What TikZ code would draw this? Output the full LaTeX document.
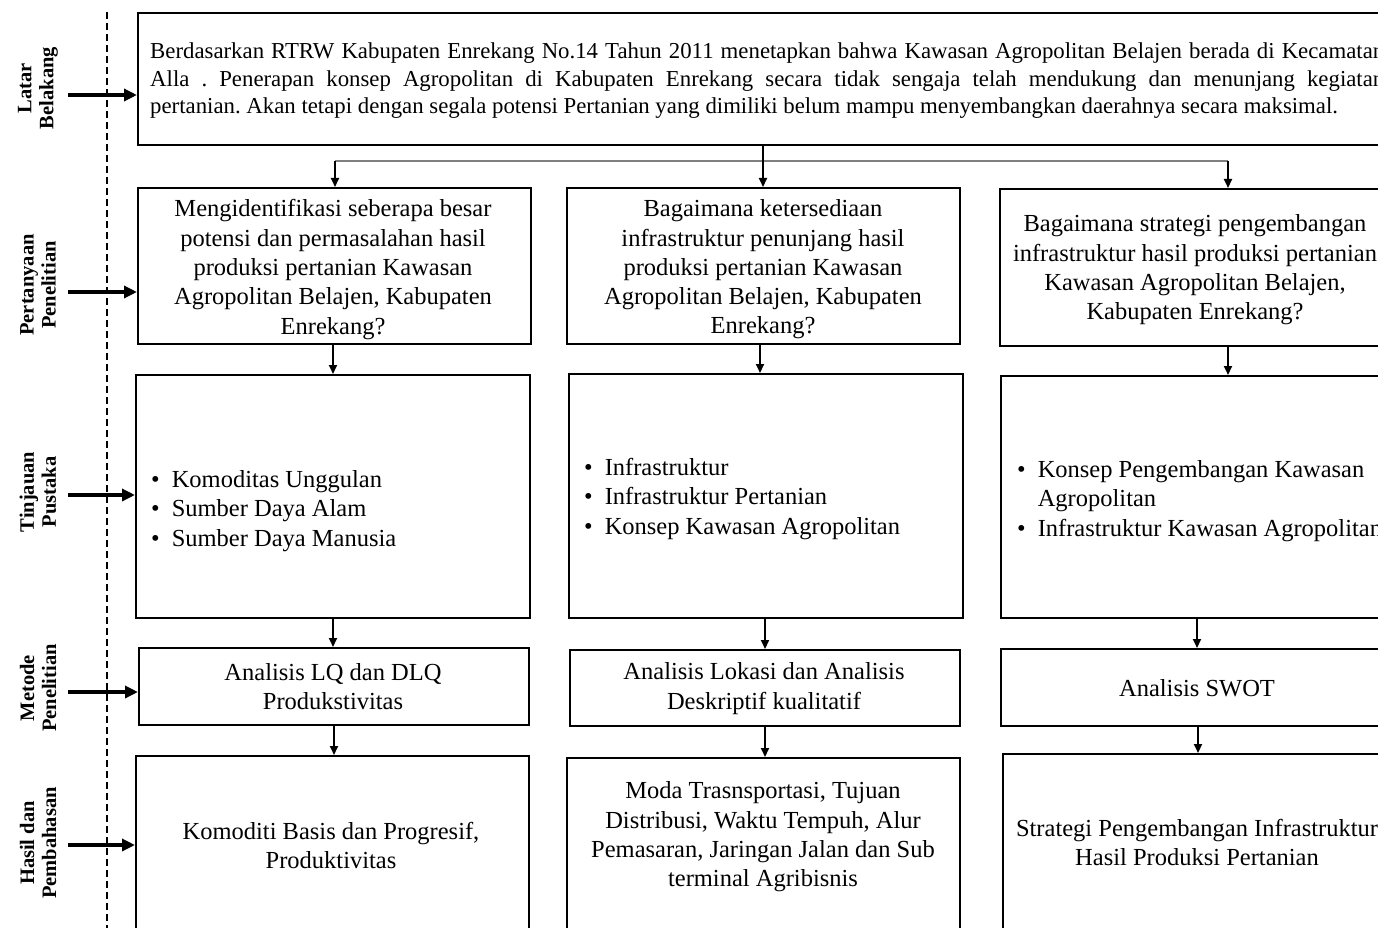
\documentclass[tikz,border=0pt]{standalone}
\usepackage{fontspec}
\setmainfont{Liberation Serif}
\usetikzlibrary{arrows.meta}
\frenchspacing
\begin{document}
\begin{tikzpicture}[x=1pt,y=-1pt,
 box/.style={draw, line width=1.6pt, inner sep=0pt, anchor=north west},
 txt/.style={font=\fontsize{24.5}{29.3}\selectfont\frenchspacing, align=center, inner sep=0pt},
 ltxt/.style={font=\fontsize{24.5}{29.3}\selectfont, anchor=west, inner sep=0pt},
 arr/.style={-{Triangle[length=9pt,width=8pt]}, line width=1.8pt},
 side/.style={-{Triangle[length=13pt,width=12pt]}, line width=4pt},
 grayline/.style={draw=gray, line width=1.2pt},
 lab/.style={rotate=90, font=\fontsize{20.5}{22}\selectfont\bfseries, align=center, inner sep=0pt}]
\useasboundingbox (0,0) rectangle (1378,928);
\clip (0,0) rectangle (1378,928);
% dashed divider
\coordinate (dtop) at (107,12);
\coordinate (dbot) at (107,940);
\draw[line width=1.8pt, dash pattern=on 7pt off 4pt] (dtop) -- (dbot);
% side labels
\node[lab] (l1) at (38,88) {Latar\\Belakang};
\node[lab] (l2) at (38,285) {Pertanyaan\\Penelitian};
\node[lab] (l3) at (38,492) {Tinjauan\\Pustaka};
\node[lab] (l4) at (38,688) {Metode\\Penelitian};
\node[lab] (l5) at (38,843) {Hasil dan\\Pembahasan};
% boxes
\node[box, minimum width=1258pt, minimum height=132pt] (bg) at (137,12) {};
\node[box, minimum width=393pt, minimum height=156pt] (q1) at (137,187) {};
\node[box, minimum width=393pt, minimum height=156pt] (q2) at (566,187) {};
\node[box, minimum width=460pt, minimum height=157pt] (q3) at (999,188) {};
\node[box, minimum width=394pt, minimum height=243pt] (t1) at (135,374) {};
\node[box, minimum width=394pt, minimum height=244pt] (t2) at (568,373) {};
\node[box, minimum width=460pt, minimum height=242pt] (t3) at (1000,375) {};
\node[box, minimum width=390pt, minimum height=77pt] (m1) at (138,647) {};
\node[box, minimum width=390pt, minimum height=76pt] (m2) at (569,649) {};
\node[box, minimum width=395pt, minimum height=77pt] (m3) at (1000,648) {};
\node[box, minimum width=393pt, minimum height=200pt] (h1) at (135,755) {};
\node[box, minimum width=393pt, minimum height=200pt] (h2) at (566,757) {};
\node[box, minimum width=395pt, minimum height=200pt] (h3) at (1002,753) {};
% texts
\node[anchor=west, inner sep=0pt, align=left, font=\fontsize{22.8}{27.5}\selectfont\frenchspacing] (bgt) at (150,81)
 {\makebox[1234pt][s]{Berdasarkan RTRW Kabupaten Enrekang No.14 Tahun 2011 menetapkan bahwa Kawasan Agropolitan Belajen berada di Kecamatan}\\
  \makebox[1234pt][s]{Alla . Penerapan konsep Agropolitan di Kabupaten Enrekang secara tidak sengaja telah mendukung dan menunjang kegiatan}\\
  pertanian. Akan tetapi dengan segala potensi Pertanian yang dimiliki belum mampu menyembangkan daerahnya secara maksimal.};
\node[txt] (q1t) at (333,269.5) {Mengidentifikasi seberapa besar\\potensi dan permasalahan hasil\\produksi pertanian Kawasan\\Agropolitan Belajen, Kabupaten\\Enrekang?};
\node[txt] (q2t) at (763,269.5) {Bagaimana ketersediaan\\infrastruktur penunjang hasil\\produksi pertanian Kawasan\\Agropolitan Belajen, Kabupaten\\Enrekang?};
\node[txt] (q3t) at (1195,270) {Bagaimana strategi pengembangan\\infrastruktur hasil produksi pertanian\\Kawasan Agropolitan Belajen,\\Kabupaten Enrekang?};
\node[ltxt] (t1t) at (151,511) {\begin{tabular}{@{}l@{\hspace{12pt}}l@{}}\textbullet & Komoditas Unggulan\\ \textbullet & Sumber Daya Alam\\ \textbullet & Sumber Daya Manusia\end{tabular}};
\node[ltxt] (t2t) at (584,499) {\begin{tabular}{@{}l@{\hspace{12pt}}l@{}}\textbullet & Infrastruktur\\ \textbullet & Infrastruktur Pertanian\\ \textbullet & Konsep Kawasan Agropolitan\end{tabular}};
\node[ltxt] (t3t) at (1017,501) {\begin{tabular}{@{}l@{\hspace{12pt}}l@{}}\textbullet & Konsep Pengembangan Kawasan\\ & Agropolitan\\ \textbullet & Infrastruktur Kawasan Agropolitan\end{tabular}};
\node[txt] (m1t) at (333,686.5) {Analisis LQ dan DLQ\\Produkstivitas};
\node[txt] (m2t) at (764,688.5) {Analisis Lokasi dan Analisis\\Deskriptif kualitatif};
\node[txt] (m3t) at (1197,688) {Analisis SWOT};
\node[txt] (h1t) at (331,845.5) {Komoditi Basis dan Progresif,\\Produktivitas};
\node[txt] (h2t) at (763,837) {Moda Trasnsportasi, Tujuan\\Distribusi, Waktu Tempuh, Alur\\Pemasaran, Jaringan Jalan dan Sub\\terminal Agribisnis};
\node[txt] (h3t) at (1197,842.5) {Strategi Pengembangan Infrastruktur\\Hasil Produksi Pertanian};
% left arrows
\coordinate (s1) at (68,95);
\coordinate (s2) at (68,292);
\coordinate (s3) at (68,495);
\coordinate (s4) at (68,692);
\coordinate (s5) at (68,845);
\draw[side] (s1) -- (bg.west |- s1);
\draw[side] (s2) -- (q1.west |- s2);
\draw[side] (s3) -- (t1.west |- s3);
\draw[side] (s4) -- (m1.west |- s4);
\draw[side] (s5) -- (h1.west |- s5);
% top distribution
\coordinate (c1) at (335,161);
\coordinate (c2) at (763,161);
\coordinate (c3) at (1228,161);
\draw[grayline] (c1) -- (c3);
\draw[arr] (bg.south -| c2) -- (q2.north -| c2);
\draw[arr] (c1) -- (q1.north -| c1);
\draw[arr] (c3) -- (q3.north -| c3);
% column arrows
\coordinate (a1) at (333,0);
\coordinate (a2) at (760,0);
\coordinate (a3) at (1228,0);
\draw[arr] (q1.south -| a1) -- (t1.north -| a1);
\draw[arr] (q2.south -| a2) -- (t2.north -| a2);
\draw[arr] (q3.south -| a3) -- (t3.north -| a3);
\coordinate (b1) at (333,0);
\coordinate (b2) at (765,0);
\coordinate (b3) at (1197,0);
\draw[arr] (t1.south -| b1) -- (m1.north -| b1);
\draw[arr] (t2.south -| b2) -- (m2.north -| b2);
\draw[arr] (t3.south -| b3) -- (m3.north -| b3);
\coordinate (e1) at (334,0);
\coordinate (e2) at (765,0);
\coordinate (e3) at (1198,0);
\draw[arr] (m1.south -| e1) -- (h1.north -| e1);
\draw[arr] (m2.south -| e2) -- (h2.north -| e2);
\draw[arr] (m3.south -| e3) -- (h3.north -| e3);
\end{tikzpicture}
\end{document}
